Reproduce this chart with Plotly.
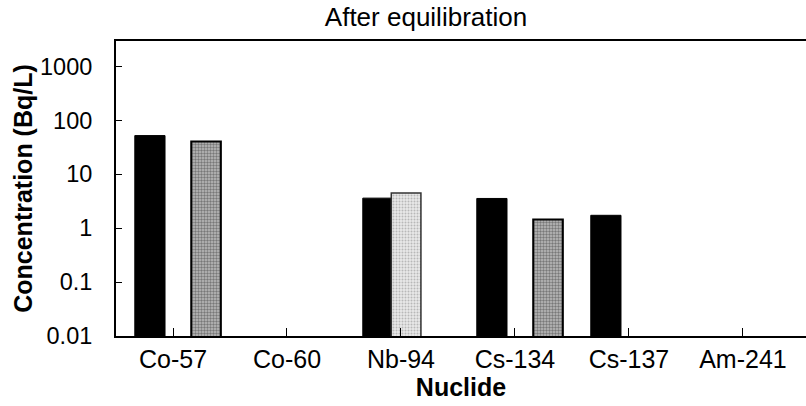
import plotly.graph_objects as go

nuclides = ["Co-57", "Co-60", "Nb-94", "Cs-134", "Cs-137", "Am-241"]
series_a = [52, None, 3.6, 3.55, 1.73, None]      # black
series_b = [None, None, 4.5, None, None, None]     # light dotted
series_c = [40.5, None, None, 1.45, None, None]    # grey dotted
y_ticks = [0.01, 0.1, 1, 10, 100, 1000]
y_tick_text = ["0.01", "0.1", "1", "10", "100", "1000"]

FONT = "Liberation Sans, Arial, sans-serif"

fig = go.Figure()
fig.add_trace(go.Bar(x=nuclides, y=series_a, width=0.265, offset=-0.335,
                     marker=dict(color="black", line=dict(color="black", width=1))))
fig.add_trace(go.Bar(x=nuclides, y=series_b, width=0.26, offset=-0.085,
                     marker=dict(color="#e4e4e4", line=dict(color="#333", width=1.5),
                                 pattern=dict(shape=".", fgcolor="#888", bgcolor="#e8e8e8",
                                              size=3, solidity=0.35))))
fig.add_trace(go.Bar(x=nuclides, y=series_c, width=0.26, offset=0.16,
                     marker=dict(color="#a0a0a0", line=dict(color="black", width=2),
                                 pattern=dict(shape=".", fgcolor="#333", bgcolor="#bdbdbd",
                                              size=3, solidity=0.5))))

fig.update_layout(
    width=806, height=406,
    margin=dict(l=116, r=0, t=41, b=70),
    plot_bgcolor="white", paper_bgcolor="white",
    showlegend=False,
    font=dict(family=FONT, color="black"),
    title=dict(text="After equilibration", x=426/806, xanchor="center",
               y=1 - 17/406, yanchor="middle", font=dict(size=26, family=FONT)),
    xaxis=dict(range=[-0.5, 5.553], showline=True, linewidth=2, linecolor="black",
               mirror=True, ticks="inside", ticklen=8, tickcolor="black",
               tickfont=dict(size=25), showgrid=False, automargin=False,
               title=dict(text="<b>Nuclide</b>", font=dict(size=25), standoff=0)),
    yaxis=dict(type="log", range=[-2, 3.47], showline=True, linewidth=2, linecolor="black",
               ticks="inside", ticklen=6, tickcolor="black", showgrid=False,
               tickvals=y_ticks, ticktext=y_tick_text, tickfont=dict(size=23.5),
               ticklabelstandoff=17, automargin=False,
               title=dict(text="<b>Concentration (Bq/L)</b>", font=dict(size=25), standoff=0)),
)

fig.write_html("out.html",
               config={"displayModeBar": False},
               post_script="document.body.style.margin='0';document.body.style.overflow='hidden';")
